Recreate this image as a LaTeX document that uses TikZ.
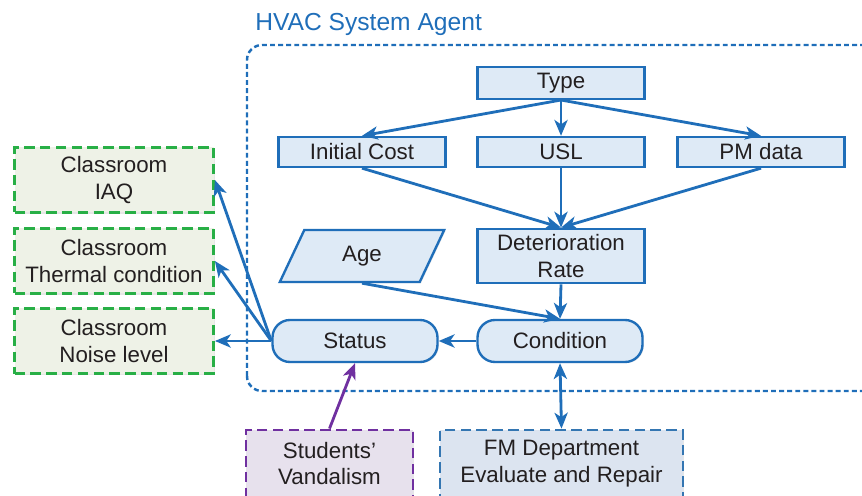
\documentclass[tikz,border=0pt]{standalone}
\usepackage{fontspec}
\setmainfont{Liberation Sans}
\usepackage{tikz}
\usetikzlibrary{arrows.meta, positioning, shapes.geometric, shadows}

\definecolor{hvacblue}{RGB}{31,110,185}
\definecolor{boxfill}{RGB}{222,234,246}
\definecolor{roomgreen}{RGB}{40,175,70}
\definecolor{roomfill}{RGB}{238,242,231}
\definecolor{vandpurple}{RGB}{112,48,160}
\definecolor{vandfill}{RGB}{231,225,237}
\definecolor{fmblue}{RGB}{52,118,178}
\definecolor{fmfill}{RGB}{220,228,240}
\definecolor{txt}{RGB}{35,31,32}

\begin{document}
\begin{tikzpicture}[
    every node/.style={font=\fontsize{12.7}{15}\selectfont, text=txt},
    shade/.style={drop shadow={shadow xshift=0.7pt, shadow yshift=-0.7pt, opacity=0.2}},
    block/.style={draw=hvacblue, fill=boxfill, line width=1.35pt, minimum width=3.34cm, minimum height=0.6cm, align=center, shade},
    roundblock/.style={block, rounded corners=0.35cm, minimum width=3.3cm, minimum height=0.84cm},
    inbox/.style={block, trapezium, trapezium left angle=71, trapezium right angle=109, trapezium stretches=true, minimum width=3.3cm, minimum height=1.04cm},
    outbox/.style={draw, line width=1.6pt, dash pattern=on 6pt off 3pt, minimum width=3.98cm, minimum height=1.3cm, align=center, shade},
    room/.style={outbox, draw=roomgreen, fill=roomfill},
    arrow/.style={-{Stealth[length=9pt, width=7.5pt, inset=2.5pt]}, draw=hvacblue, line width=1.6pt}
]
\useasboundingbox (0,0) rectangle (17.24,9.9);

% system boundary
\draw[hvacblue, line width=1.4pt, dash pattern=on 2.8pt off 1.8pt, rounded corners=0.3cm]
    (4.94,2.08) rectangle (17.8,9.0);
\node[anchor=west, text=hvacblue, font=\fontsize{14}{17}\selectfont, inner sep=0pt] (title) at (5.1,9.41) {HVAC System Agent};

\node[block] (type)  at (11.22,8.24) {Type};
\node[block] (icost) at (7.24,6.86)  {Initial Cost};
\node[block] (usl)   at (11.22,6.86) {USL};
\node[block] (pm)    at (15.22,6.86) {PM data};
\node[inbox] (age)   at (7.24,4.78)  {Age};
\node[block, minimum height=1.04cm] (det) at (11.22,4.78) {Deterioration\\Rate};
\node[roundblock] (cond) at (11.2,3.08) {Condition};
\node[roundblock] (stat) at (7.1,3.08)  {Status};

\node[room] (iaq)   at (2.28,6.3)  {Classroom\\IAQ};
\node[room] (therm) at (2.28,4.68) {Classroom\\Thermal condition};
\node[room] (noise) at (2.28,3.08) {Classroom\\Noise level};

\node[outbox, draw=vandpurple, fill=vandfill, minimum width=3.34cm, minimum height=1.34cm] (vand) at (6.59,0.63) {Students'\\Vandalism};
\node[outbox, draw=fmblue, fill=fmfill, minimum width=4.86cm, minimum height=1.34cm] (fm) at (11.23,0.63) {FM Department\\Evaluate and Repair};

\draw[arrow] (type.south) -- (icost.north);
\draw[arrow] (type.south) -- (usl.north);
\draw[arrow] (type.south) -- (pm.north);
\draw[arrow] (icost.south) -- (det.north);
\draw[arrow] (usl.south) -- (det.north);
\draw[arrow] (pm.south) -- (det.north);
\draw[arrow] (det.south) -- (cond.north);
\draw[arrow] (age.south) -- (cond.north);
\draw[arrow] (cond.west) -- (stat.east);
\draw[arrow] (stat.west) -- (iaq.east);
\draw[arrow] (stat.west) -- (therm.east);
\draw[arrow] (stat.west) -- (noise.east);
\draw[arrow, draw=vandpurple] (vand.north) -- (stat.south);
\draw[arrow, {Stealth[length=9pt, width=7.5pt, inset=2.5pt]}-{Stealth[length=9pt, width=7.5pt, inset=2.5pt]}] (cond.south) -- (fm.north);

\end{tikzpicture}
\end{document}
